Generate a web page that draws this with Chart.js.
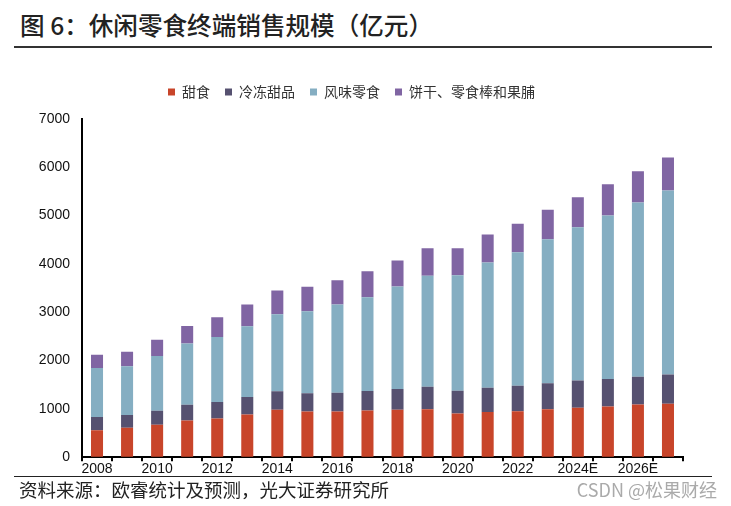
<!DOCTYPE html>
<html>
<head>
<meta charset="utf-8">
<script src="https://cdn.jsdelivr.net/npm/chart.js@4"></script>
<style>
    body { margin: 0; background: #fff; }
    #page { position: relative; width: 731px; height: 506px; overflow: hidden; font-family: "Noto Sans CJK SC", sans-serif; }
    #title { position: absolute; left: 20px; top: 9px; font-size: 24.6px; line-height: 30px; font-weight: 500; color: #222; white-space: nowrap; }
    #titleRule { position: absolute; left: 14px; top: 46px; width: 698px; height: 2px; background: #333; }
    #chartBox { position: absolute; left: 0; top: 60px; width: 731px; height: 420px; }
    #footRule { position: absolute; left: 14px; top: 476px; width: 698px; height: 1px; background: #222; }
    #source { position: absolute; left: 19px; top: 479px; font-size: 18.5px; line-height: 20px; color: #222; white-space: nowrap; }
    #mark { position: absolute; right: 14px; top: 479px; font-size: 18px; line-height: 20px; color: #aaa; white-space: nowrap; }
</style>
</head>
<body>
<div id="page">
    <div id="title">图 6：休闲零食终端销售规模（亿元）</div>
    <div id="titleRule"></div>
    <div id="chartBox"><canvas id="snackChart"></canvas></div>
    <div id="footRule"></div>
    <div id="source">资料来源：欧睿统计及预测，光大证券研究所</div>
    <div id="mark">CSDN @松果财经</div>
</div>
<script>
const years = ['2008', '2009', '2010', '2011', '2012', '2013', '2014', '2015', '2016', '2017',
    '2018', '2019', '2020', '2021', '2022', '2023', '2024E', '2025E', '2026E', '2027E'];

// 亿元
const sweets = [560, 609, 671, 761, 803, 886, 983, 948, 948, 968, 980, 994, 904, 938, 952, 994, 1021, 1049, 1090, 1104];
const frozenDesserts = [270, 263, 291, 325, 339, 360, 380, 374, 388, 404, 434, 462, 469, 497, 525, 538, 566, 572, 573, 607];
const savourySnacks = [1018, 1010, 1135, 1267, 1346, 1466, 1597, 1700, 1824, 1940, 2119, 2298, 2394, 2594, 2766, 2981, 3174, 3382, 3609, 3809];
const biscuitsBars = [270, 298, 332, 365, 410, 448, 490, 504, 504, 538, 538, 572, 559, 580, 587, 607, 621, 648, 648, 684];

const yTicks = [0, 1000, 2000, 3000, 4000, 5000, 6000, 7000];

// legend sits a bit further from the plot than chart.js puts it
const legendGap = {
    id: 'legendGap',
    beforeInit(chart) {
        const fit = chart.legend.fit;
        chart.legend.fit = function () {
            fit.call(this);
            this.height += 10;
        };
    }
};

const numFont = { family: '"Liberation Sans", Arial, sans-serif', size: 14 };

const ctx = document.getElementById('snackChart').getContext('2d');
const snackChart = new Chart(ctx, {
    type: 'bar',
    data: {
        labels: years,
        datasets: [
            { label: '甜食', data: sweets, backgroundColor: '#C8452A' },
            { label: '冷冻甜品', data: frozenDesserts, backgroundColor: '#565170' },
            { label: '风味零食', data: savourySnacks, backgroundColor: '#85AEC2' },
            { label: '饼干、零食棒和果脯', data: biscuitsBars, backgroundColor: '#8065A3' }
        ]
    },
    options: {
        responsive: true,
        maintainAspectRatio: false,
        animation: false,
        datasets: {
            bar: { barPercentage: 0.4, categoryPercentage: 1 }
        },
        layout: { padding: { top: 10, left: 20, right: 48, bottom: 2 } },
        plugins: {
            legend: {
                display: true,
                position: 'top',
                labels: {
                    boxWidth: 7,
                    boxHeight: 7,
                    padding: 15,
                    color: '#333',
                    font: { family: '"Noto Sans CJK SC", sans-serif', size: 14 }
                }
            },
            tooltip: { enabled: false }
        },
        scales: {
            x: {
                stacked: true,
                border: { display: true, color: '#000', width: 2 },
                grid: { drawOnChartArea: false, drawTicks: true, tickLength: 4, color: '#000', lineWidth: 2 },
                ticks: {
                    autoSkip: false,
                    maxRotation: 0,
                    padding: 0,
                    color: '#111',
                    font: numFont,
                    callback: (value, index) => (index % 2 === 0 ? years[index] : '')
                }
            },
            y: {
                stacked: true,
                min: yTicks[0],
                max: yTicks[yTicks.length - 1],
                afterFit: (scale) => { scale.width = 62; },
                afterBuildTicks: (scale) => { scale.ticks = yTicks.map(v => ({ value: v })); },
                border: { display: true, color: '#000', width: 2 },
                grid: { drawOnChartArea: false, drawTicks: false },
                ticks: {
                    padding: 12,
                    color: '#111',
                    font: numFont,
                    callback: (value) => String(value)
                }
            }
        }
    },
    plugins: [legendGap]
});
</script>
</body>
</html>
